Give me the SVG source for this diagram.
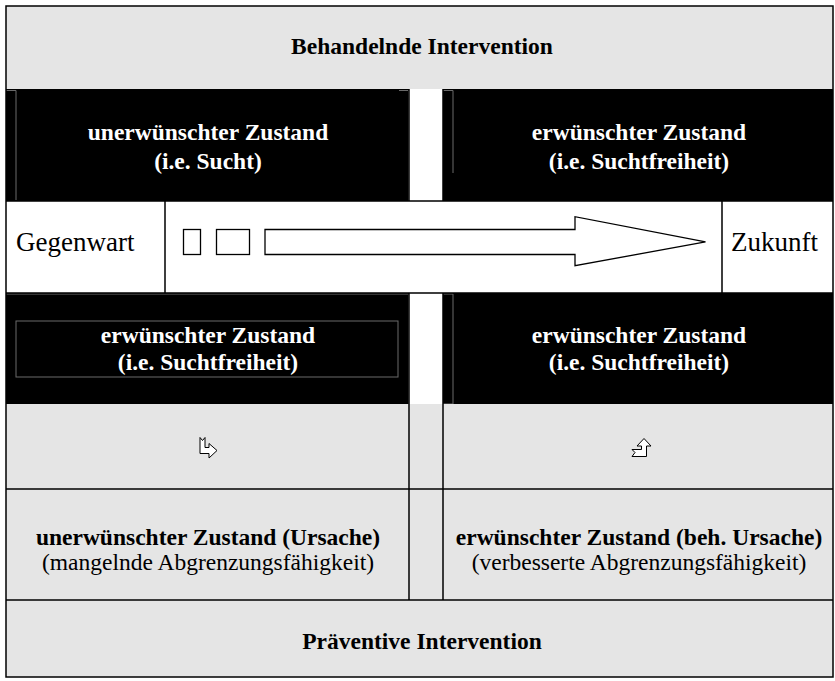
<svg xmlns="http://www.w3.org/2000/svg" width="835" height="681" viewBox="0 0 835 681">
<style>
.grey{fill:#e5e5e5}
.blk{fill:#000}
.wht{fill:#fff}
.ln{stroke:#000;stroke-width:1.5;fill:none}
.faint{stroke:#6a6a6a;stroke-width:1;fill:none}
.b{font-family:"Liberation Serif","Times New Roman",serif;font-weight:bold;font-size:23.5px;text-anchor:middle}
.r{font-family:"Liberation Serif","Times New Roman",serif;font-size:23.5px;text-anchor:middle}
.big{font-family:"Liberation Serif","Times New Roman",serif;font-size:27px}
.wt{fill:#fff}
.shape{fill:#fff;stroke:#000;stroke-width:1.3}
.icon{fill:#fff;stroke:#000;stroke-width:1}
</style>
<rect x="0" y="0" width="835" height="681" fill="#fff"/>

<g id="behandelnde">
<rect class="grey" x="6" y="6" width="827" height="83"/>
<text class="b" x="422" y="54">Behandelnde Intervention</text>
</g>

<g id="top-left">
<rect class="blk" x="6" y="89" width="403" height="112"/>
<path class="faint" d="M6,90.5 H16 V200"/>
<path class="faint" d="M399,90.5 H408.5 V201"/>
<text class="b wt" x="208" y="140">unerwünschter Zustand</text>
<text class="b wt" x="208" y="169">(i.e. Sucht)</text>
</g>

<g id="top-mid">
<rect class="wht" x="409" y="89" width="34" height="112"/>
</g>

<g id="top-right">
<rect class="blk" x="443" y="89" width="390" height="112"/>
<path class="faint" d="M443,90.5 H453 V173"/>
<text class="b wt" x="639" y="140">erwünschter Zustand</text>
<text class="b wt" x="639" y="169">(i.e. Suchtfreiheit)</text>
</g>

<g id="gegenwart">
<rect class="wht" x="6" y="201" width="159" height="92"/>
<text class="big" x="16" y="251">Gegenwart</text>
</g>

<g id="zeitpfeil">
<rect class="wht" x="165" y="201" width="557" height="92"/>
<rect class="shape" x="183.5" y="229.5" width="17" height="25"/>
<rect class="shape" x="216.5" y="229.5" width="33" height="25"/>
<path class="shape" d="M265,229.5 H575 V216.7 L705.5,241.9 L575,265.7 V254.5 H265 Z"/>
</g>

<g id="zukunft">
<rect class="wht" x="722" y="201" width="111" height="92"/>
<text class="big" x="731" y="251">Zukunft</text>
</g>

<g id="mid-left">
<rect class="blk" x="6" y="293" width="403" height="111"/>
<rect class="faint" x="16" y="321" width="382" height="56"/>
<path class="faint" d="M6,294 H408.5 V404"/>
<text class="b wt" x="208" y="343">erwünschter Zustand</text>
<text class="b wt" x="208" y="370">(i.e. Suchtfreiheit)</text>
</g>

<g id="mid-mid">
<rect class="wht" x="409" y="293" width="34" height="111"/>
</g>

<g id="mid-right">
<rect class="blk" x="443" y="293" width="390" height="111"/>
<path class="faint" d="M443,294 H453 V404 H443"/>
<text class="b wt" x="639" y="343">erwünschter Zustand</text>
<text class="b wt" x="639" y="370">(i.e. Suchtfreiheit)</text>
</g>

<g id="icon-left">
<rect class="grey" x="6" y="404" width="403" height="85"/>
<path class="icon" d="M200,437.5 L202.5,440.5 L205,437.5 V447.5 H209 V443.5 L217,450.5 L209,458 V453.5 H200 Z"/>
</g>

<g id="icon-mid">
<rect class="grey" x="409" y="404" width="34" height="85"/>
</g>

<g id="icon-right">
<rect class="grey" x="443" y="404" width="390" height="85"/>
<path class="icon" d="M632,456.5 L635,452.5 L632,449.5 H641.5 V446 H637 L644,438.5 L651,446 H646.5 V456.5 Z"/>
</g>

<g id="ursache-left">
<rect class="grey" x="6" y="489" width="403" height="111"/>
<text class="b" x="208" y="545">unerwünschter Zustand (Ursache)</text>
<text class="r" x="208" y="570">(mangelnde Abgrenzungsfähigkeit)</text>
</g>

<g id="ursache-mid">
<rect class="grey" x="409" y="489" width="34" height="111"/>
</g>

<g id="ursache-right">
<rect class="grey" x="443" y="489" width="390" height="111"/>
<text class="b" x="639" y="545">erwünschter Zustand (beh. Ursache)</text>
<text class="r" x="639" y="570">(verbesserte Abgrenzungsfähigkeit)</text>
</g>

<g id="praeventive">
<rect class="grey" x="6" y="600" width="827" height="77"/>
<text class="b" x="422" y="649">Präventive Intervention</text>
</g>

<g id="connectors">
<rect class="ln" x="6" y="6" width="827" height="671"/>
<path class="ln" d="M6,201 H833 M6,293 H833 M165,201 V293 M722,201 V293"/>
<path class="ln" d="M6,489 H833 M6,600 H833 M409,404 V600 M443,404 V600 M409,89 V201 M443,89 V201 M409,293 V404 M443,293 V404"/>
</g>
</svg>
